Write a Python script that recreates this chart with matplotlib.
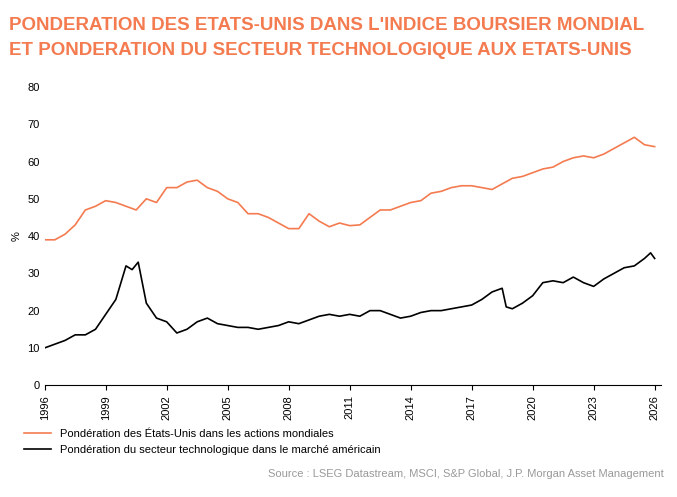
import matplotlib
matplotlib.use("Agg")
import matplotlib.pyplot as plt

plt.rcParams['font.family'] = ['Liberation Sans', 'DejaVu Sans']

orange = "#F47B50"

us_x = [1996, 1996.5, 1997, 1997.5, 1998, 1998.5, 1999, 1999.5, 2000, 2000.5, 2001, 2001.5,
        2002, 2002.5, 2003, 2003.5, 2004, 2004.5, 2005, 2005.5, 2006, 2006.5, 2007, 2007.5,
        2008, 2008.5, 2009, 2009.5, 2010, 2010.5, 2011, 2011.5, 2012, 2012.5, 2013, 2013.5,
        2014, 2014.5, 2015, 2015.5, 2016, 2016.5, 2017, 2017.5, 2018, 2018.5, 2019, 2019.5,
        2020, 2020.5, 2021, 2021.5, 2022, 2022.5, 2023, 2023.5, 2024, 2024.5, 2025, 2025.5, 2026]
us_y = [39, 39, 40.5, 43, 47, 48, 49.5, 49, 48, 47, 50, 49,
        53, 53, 54.5, 55, 53, 52, 50, 49, 46, 46, 45, 43.5,
        42, 42, 46, 44, 42.5, 43.5, 42.8, 43, 45, 47, 47, 48,
        49, 49.5, 51.5, 52, 53, 53.5, 53.5, 53, 52.5, 54, 55.5, 56,
        57, 58, 58.5, 60, 61, 61.5, 61, 62, 63.5, 65, 66.5, 64.5, 64]

tech_x = [1996, 1996.5, 1997, 1997.5, 1998, 1998.5, 1999, 1999.5, 2000, 2000.3, 2000.6, 2001, 2001.5,
          2002, 2002.5, 2003, 2003.5, 2004, 2004.5, 2005, 2005.5, 2006, 2006.5, 2007, 2007.5,
          2008, 2008.5, 2009, 2009.5, 2010, 2010.5, 2011, 2011.5, 2012, 2012.5, 2013, 2013.5,
          2014, 2014.5, 2015, 2015.5, 2016, 2016.5, 2017, 2017.5, 2018, 2018.5, 2018.7, 2019, 2019.5,
          2020, 2020.5, 2021, 2021.5, 2022, 2022.5, 2023, 2023.5, 2024, 2024.5, 2025, 2025.5, 2025.8, 2026]
tech_y = [10, 11, 12, 13.5, 13.5, 15, 19, 23, 32, 31, 33, 22, 18,
          17, 14, 15, 17, 18, 16.5, 16, 15.5, 15.5, 15, 15.5, 16,
          17, 16.5, 17.5, 18.5, 19, 18.5, 19, 18.5, 20, 20, 19, 18,
          18.5, 19.5, 20, 20, 20.5, 21, 21.5, 23, 25, 26, 21, 20.5, 22,
          24, 27.5, 28, 27.5, 29, 27.5, 26.5, 28.5, 30, 31.5, 32, 34, 35.5, 34]

fig = plt.figure(figsize=(6.77, 4.97), dpi=100)
ax = fig.add_axes([0.066, 0.225, 0.91, 0.6])

ax.plot(us_x, us_y, color=orange, lw=1.2, label="Pondération des États-Unis dans les actions mondiales")
ax.plot(tech_x, tech_y, color="black", lw=1.2, label="Pondération du secteur technologique dans le marché américain")

ax.set_xlim(1996, 2026.3)
ax.set_ylim(0, 80)
ax.set_yticks(range(0, 81, 10))
ax.set_xticks(range(1996, 2027, 3))
ax.tick_params(axis='x', rotation=90, labelsize=8)
ax.tick_params(axis='y', length=0, labelsize=8)
ax.set_ylabel("%", fontsize=8)
for s in ['top', 'right', 'left']:
    ax.spines[s].set_visible(False)

fig.text(0.013, 0.965, "PONDERATION DES ETATS-UNIS DANS L'INDICE BOURSIER MONDIAL", color=orange,
         fontsize=13.5, fontweight='bold', va='top')
fig.text(0.013, 0.915, "ET PONDERATION DU SECTEUR TECHNOLOGIQUE AUX ETATS-UNIS", color=orange,
         fontsize=13.5, fontweight='bold', va='top')

fig.legend(loc='lower left', bbox_to_anchor=(0.02, 0.065), frameon=False, fontsize=8,
           handlelength=2.5, labelspacing=0.5)
fig.text(0.98, 0.04, "Source : LSEG Datastream, MSCI, S&P Global, J.P. Morgan Asset Management",
         color="#999999", fontsize=8, ha='right')

fig.savefig("out.png", dpi=100)
